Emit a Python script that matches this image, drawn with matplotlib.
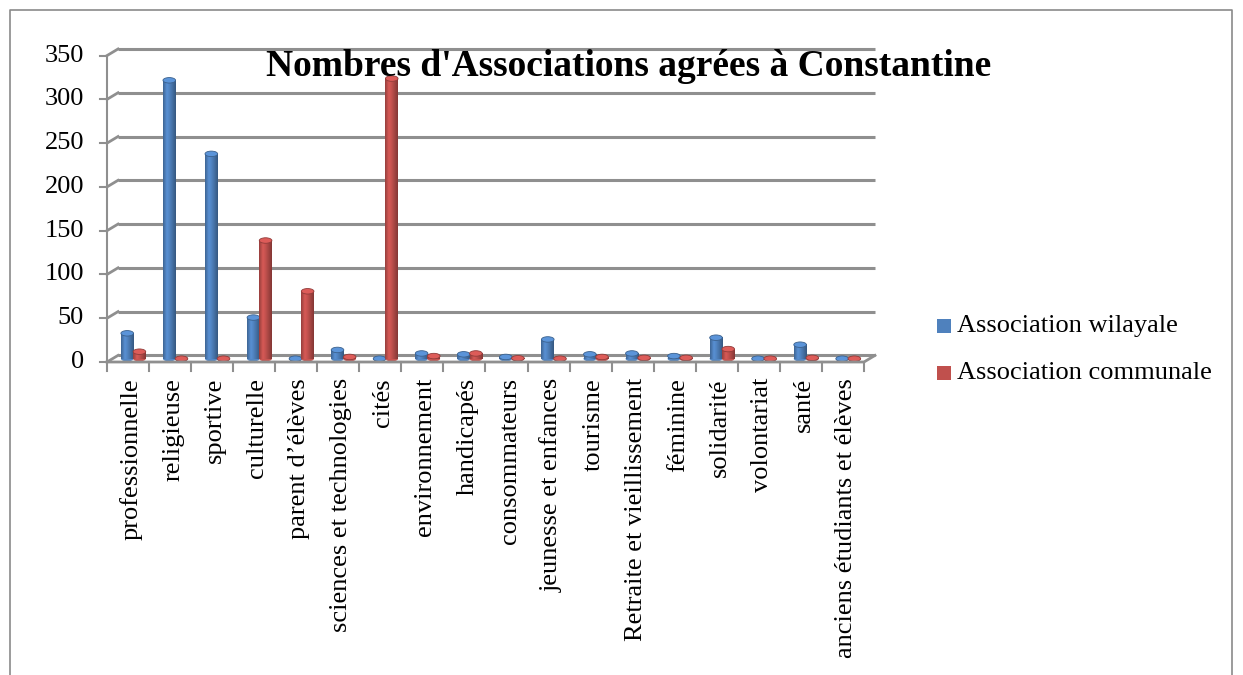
import numpy as np
import matplotlib
matplotlib.use("Agg")
import matplotlib.pyplot as plt
from matplotlib import transforms
from matplotlib.patches import Ellipse, Rectangle
from matplotlib.colors import LinearSegmentedColormap, to_rgb
from matplotlib.lines import Line2D

# ---- data ----
categories = [
    "professionnelle", "religieuse", "sportive", "culturelle", "parent d\u2019élèves",
    "sciences et technologies", "cités", "environnement", "handicapés",
    "consommateurs", "jeunesse et enfances", "tourisme", "Retraite et vieillissement",
    "féminine", "solidarité", "volontariat", "santé", "anciens étudiants et élèves",
]
wilayale = [29, 318, 234, 47, 0, 10, 0, 6, 5, 2, 22, 5, 6, 3, 24, 0, 16, 0]
communale = [8, 0, 0, 135, 77, 2, 320, 3, 6, 0.5, 0, 2, 1, 1, 11, 0, 1, 0]
series_names = ["Association wilayale", "Association communale"]
series_colors = ["#4F81BD", "#C0504D"]
y_ticks = [0, 50, 100, 150, 200, 250, 300, 350]
title = "Nombres d'Associations agrées à Constantine"

W, H = 1243, 675
fig = plt.figure(figsize=(W / 100, H / 100), dpi=100)
plt.rcParams["font.family"] = ["Liberation Serif", "DejaVu Serif"]
FS = 19

# axes at mid depth of the 3D box
left_px, right_px = 112.5, 869.5
bot_px, top_px = 358.7, 52.3
ax = fig.add_axes([left_px / W, 1 - bot_px / H, (right_px - left_px) / W, (bot_px - top_px) / H])
ax.set_xlim(-0.5, len(categories) - 0.5)
ax.set_ylim(0, 350)
ax.axis("off")
fb = fig.bbox

dx, dy = 5.5, 3.3  # half depth of the box, in pixels
front = transforms.offset_copy(ax.transData, fig=fig, x=-dx, y=-dy, units="dots")
back = transforms.offset_copy(ax.transData, fig=fig, x=dx, y=dy, units="dots")
n = len(categories)
x0, x1 = -0.5, n - 0.5
grid_c = "#8f8f8f"


def seg(points, **kw):
    """Draw a polyline given display-space points."""
    xs = [p[0] / fb.width for p in points]
    ys = [p[1] / fb.height for p in points]
    fig.add_artist(Line2D(xs, ys, transform=fig.transFigure, **kw))


# back wall gridlines and side wall diagonals
for v in y_ticks:
    ax.plot([x0, x1], [v, v], transform=back, color=grid_c, lw=2.2, zorder=1, clip_on=False,
            solid_capstyle="butt")
    seg([front.transform((x0, v)), back.transform((x0, v))], color=grid_c, lw=2.0, zorder=1)
# floor: front edge and right diagonal
seg([front.transform((x0, 0)), front.transform((x1, 0)), back.transform((x1, 0))],
    color=grid_c, lw=2.0, zorder=1)
# front vertical axis
ax.plot([x0, x0], [0, 350], transform=front, color=grid_c, lw=1.5, clip_on=False, zorder=2)
tick_tr = transforms.offset_copy(front, fig=fig, x=-7, y=0, units="dots")
ylab_tr = transforms.offset_copy(front, fig=fig, x=-23, y=0, units="dots")
for v in y_ticks:
    seg([front.transform((x0, v)), tick_tr.transform((x0, v))], color=grid_c, lw=1.5)
    ax.text(x0, v, f"{v}", transform=ylab_tr, ha="right", va="center", fontsize=FS,
            color="black", clip_on=False)
# category ticks
for b in np.arange(x0, x1 + 0.01, 1.0):
    p0 = front.transform((b, 0))
    seg([p0, (p0[0], p0[1] - 9)], color=grid_c, lw=1.5)
label_tr = transforms.offset_copy(front, fig=fig, x=3, y=-16, units="dots")
for i, c in enumerate(categories):
    ax.text(i, 0, c, transform=label_tr, rotation=90, ha="center", va="top",
            fontsize=FS, clip_on=False)


# ---- cylinder bars ----
def shade_cmap(col):
    r, g, b = to_rgb(col)

    def f(k):
        return tuple(min(1, max(0, ch * k)) for ch in (r, g, b))
    return LinearSegmentedColormap.from_list(
        "cyl", [(0, f(0.78)), (0.3, f(1.12)), (0.5, f(1.02)), (0.8, f(0.82)), (1, f(0.68))])


bw = 0.30
offs = [-0.15, 0.14]
ell_h = 5.5 / ((bot_px - top_px) / 350)  # ellipse height in data units
grad = np.linspace(0, 1, 64).reshape(1, -1)
for s, vals in enumerate([wilayale, communale]):
    col = series_colors[s]
    cm = shade_cmap(col)
    r, g, b = to_rgb(col)
    top_col = (min(1, r * 1.15), min(1, g * 1.15), min(1, b * 1.15))
    for i, v in enumerate(vals):
        xc = i + offs[s]
        z = 3 + i * 0.01 + s * 0.001
        # rounded base
        ax.add_patch(Ellipse((xc, 0), bw, ell_h, facecolor=cm(0.45), edgecolor="none",
                             zorder=z, clip_on=False))
        if v > 0:
            ax.imshow(grad, extent=[xc - bw / 2, xc + bw / 2, 0, v], aspect="auto", cmap=cm,
                      zorder=z, interpolation="bilinear", clip_on=False)
        ax.add_patch(Ellipse((xc, v), bw, ell_h, facecolor=top_col, edgecolor=cm(0.9),
                             lw=0.6, zorder=z + 0.0005, clip_on=False))

ax.set_xlim(x0, x1)
ax.set_ylim(0, 350)

# ---- title ----
fig.text(629 / W, 1 - 66 / H, title, ha="center", va="center", fontsize=27,
         fontweight="bold", zorder=10)

# ---- legend ----
leg_y = [326, 373]
for s in range(2):
    fig.patches.append(Rectangle((937 / W, 1 - (leg_y[s] + 7) / H), 14 / W, 14 / H,
                                 transform=fig.transFigure, facecolor=series_colors[s],
                                 edgecolor="none"))
    fig.text(957 / W, 1 - leg_y[s] / H, series_names[s], ha="left", va="center", fontsize=FS)

# ---- outer frame ----
fig.add_artist(Line2D([10 / W, 10 / W, 1232 / W, 1232 / W], [0, 1 - 10 / H, 1 - 10 / H, 0],
                      transform=fig.transFigure, color="#8a8a8a", lw=1.2))

fig.savefig("out.png", dpi=100)
